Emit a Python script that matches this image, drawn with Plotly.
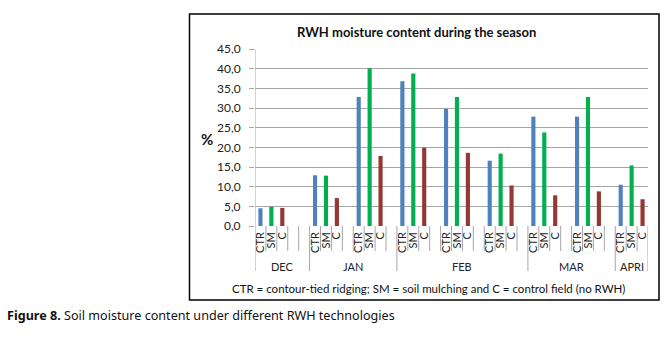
import plotly.graph_objects as go

# ---- data ----
slot_labels = ["CTR", "SM", "C", "", "",
               "CTR", "SM", "C", "", "CTR", "SM", "C", "",
               "CTR", "SM", "C", "", "CTR", "SM", "C", "", "CTR", "SM", "C", "",
               "CTR", "SM", "C", "", "CTR", "SM", "C", "",
               "CTR", "SM", "C"]
months = ["DEC", "JAN", "FEB", "MAR", "APRI"]
month_slots = [5, 8, 12, 8, 3]
ctr = [4.5, 12.9, 32.8, 36.8, 29.8, 16.6, 27.8, 27.8, 10.5]
sm = [4.9, 12.8, 40.1, 38.8, 32.8, 18.4, 23.8, 32.8, 15.4]
ctl = [4.6, 7.1, 17.8, 19.9, 18.6, 10.3, 7.8, 8.8, 6.8]
y_ticks = [0, 5, 10, 15, 20, 25, 30, 35, 40, 45]

title = "RWH moisture content during the season"
note = "CTR = contour-tied ridging; SM = soil mulching and C = control field (no RWH)"
caption_bold = "Figure 8."
caption_rest = " Soil moisture content under different RWH technologies"

# ---- geometry (pixels) ----
W, H = 668, 340
L, R, T, B = 255, 648, 49, 226
def px(p):
    return (p - L) / (R - L)
def py(p):
    return (B - p) / (B - T)

FONT = "Lato, 'Open Sans', sans-serif"
GRID = "#A6A6A6"

def positions(name):
    return [i for i, s in enumerate(slot_labels) if s == name]

fig = go.Figure()
for name, vals, col in [("CTR", ctr, "#4F81BD"), ("SM", sm, "#00B050"), ("C", ctl, "#953735")]:
    fig.add_trace(go.Bar(x=positions(name), y=vals, name=name, marker=dict(color=col, line=dict(width=0)),
                         width=0.38, showlegend=False))

shapes = []
bounds = [0]
for n in month_slots:
    bounds.append(bounds[-1] + n)
for k in range(len(slot_labels) + 1):
    xk = k - 0.5
    if k in bounds:
        y1 = 1 if k == 0 else 0
        shapes.append(dict(type="line", xref="x", yref="paper", x0=xk, x1=xk, y0=py(271), y1=y1,
                           line=dict(color=GRID, width=1)))
    else:
        shapes.append(dict(type="line", xref="x", yref="paper", x0=xk, x1=xk, y0=py(251), y1=0,
                           line=dict(color=GRID, width=1)))
shapes.append(dict(type="rect", xref="paper", yref="paper", x0=px(189.5), x1=px(659), y0=py(300), y1=py(14),
                   line=dict(color="#000000", width=1.5)))

ann = []
for i, m in enumerate(months):
    xc = (bounds[i] + bounds[i + 1]) / 2 - 0.5
    ann.append(dict(x=xc, y=py(266), xref="x", yref="paper", text=m, showarrow=False,
                    font=dict(family=FONT, size=11, color="#222222"), xanchor="center", yanchor="middle"))
ann.append(dict(x=px(416), y=py(32), xref="paper", yref="paper", text="<b>" + title + "</b>", showarrow=False,
                font=dict(family=FONT, size=13, color="#111111"), xanchor="center", yanchor="middle"))
ann.append(dict(x=px(207), y=py(139), xref="paper", yref="paper", text="<b>%</b>", showarrow=False,
                font=dict(family=FONT, size=15, color="#111111"), xanchor="center", yanchor="middle"))
ann.append(dict(x=px(428), y=py(288), xref="paper", yref="paper", text=note, showarrow=False,
                font=dict(family=FONT, size=11.5, color="#111111"), xanchor="center", yanchor="middle"))
ann.append(dict(x=px(5), y=py(315), xref="paper", yref="paper",
                text="<b>" + caption_bold + "</b>" + caption_rest, showarrow=False,
                font=dict(family="'Noto Sans', sans-serif", size=12.6, color="#111111"),
                xanchor="left", yanchor="middle"))

fig.update_layout(
    width=W, height=H,
    margin=dict(l=L, r=W - R, t=T, b=H - B, pad=0),
    plot_bgcolor="white", paper_bgcolor="white",
    separators=",.",
    barmode="overlay",
    shapes=shapes, annotations=ann,
    xaxis=dict(range=[-0.5, len(slot_labels) - 0.5], tickmode="array",
               tickvals=list(range(len(slot_labels))), ticktext=slot_labels,
               tickangle=-90, tickfont=dict(family=FONT, size=11, color="#222222"),
               showgrid=False, zeroline=False, showline=False, ticks="", ticklabelstandoff=3,
               automargin=False),
    yaxis=dict(range=[0, 45], tickmode="array", tickvals=y_ticks, tickformat=".1f",
               tickfont=dict(family=FONT, size=12, color="#222222"),
               showgrid=True, gridcolor=GRID, gridwidth=1, zeroline=False,
               showline=False, ticks="outside", ticklen=5, tickcolor=GRID,
               ticklabelstandoff=6, automargin=False),
)

fig.write_html("out.html", config={"displayModeBar": False},
               post_script="document.body.style.margin='0';document.body.style.overflow='hidden';")
